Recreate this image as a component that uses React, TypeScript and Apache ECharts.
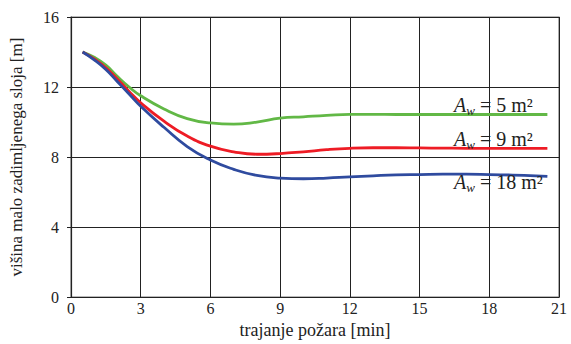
import React, { useEffect, useRef } from "react";
import * as echarts from "echarts";

const times = [0.5, 1, 1.5, 2, 2.5, 3, 4, 5, 6, 7, 8, 9, 10, 11, 12, 13, 14, 15, 16, 17, 18, 19, 20, 20.5];
const green5 = [14, 13.7, 13.25, 12.6, 12.0, 11.5, 10.75, 10.2, 9.95, 9.88, 10.0, 10.22, 10.3, 10.38, 10.44, 10.44, 10.43, 10.43, 10.43, 10.43, 10.43, 10.43, 10.43, 10.43];
const red9 = [14, 13.6, 13.1, 12.45, 11.75, 11.1, 10.05, 9.2, 8.62, 8.3, 8.16, 8.2, 8.3, 8.42, 8.5, 8.53, 8.53, 8.52, 8.51, 8.5, 8.5, 8.5, 8.5, 8.5];
const blue18 = [14, 13.55, 13.0, 12.3, 11.6, 10.9, 9.7, 8.6, 7.83, 7.3, 6.95, 6.8, 6.76, 6.8, 6.87, 6.93, 6.98, 7.0, 7.02, 7.02, 7.0, 6.97, 6.93, 6.9];
const seriesNames = ["5", "9", "18"];
const xTicks = { min: 0, max: 21, interval: 3 };
const yTicks = { min: 0, max: 16, interval: 4 };

const FONT = "Liberation Serif";

export default function App() {
  const ref = useRef<HTMLDivElement>(null);
  useEffect(() => {
    if (!ref.current) return;
    const chart = echarts.init(ref.current, null, { renderer: "svg" });
    const pair = (ys: number[]) => times.map((t, i) => [t, ys[i]]);
    const rich = {
      a: { fontFamily: FONT, fontSize: 20, fontStyle: "italic", fill: "#222", lineHeight: 24 },
      w: { fontFamily: FONT, fontSize: 13, fontStyle: "italic", fill: "#222", verticalAlign: "bottom", lineHeight: 24 },
      t: { fontFamily: FONT, fontSize: 20, fill: "#222", lineHeight: 24 },
    };
    const label = (n: string, y: number) => ({
      type: "text",
      left: 454,
      top: y - 11,
      z: 10,
      style: {
        text: `{a|A}{w|w}{t| = ${n} m²}`,
        rich,
        fontFamily: FONT,
        fontSize: 20,
      },
    });
    const axisText = (size: number) => ({ fontFamily: FONT, fontSize: size, color: "#222" });
    chart.setOption({
      animation: false,
      backgroundColor: "#fff",
      grid: { left: 69, right: 12, top: 17, bottom: 46, show: true, borderColor: "#777", borderWidth: 1.2 },
      xAxis: {
        type: "value",
        min: xTicks.min,
        max: xTicks.max,
        interval: xTicks.interval,
        name: "trajanje požara [min]",
        nameLocation: "middle",
        nameGap: 20,
        nameTextStyle: axisText(18),
        axisLine: { show: true, lineStyle: { color: "#222", width: 1.2 } },
        axisTick: { show: false },
        axisLabel: { ...axisText(16), margin: 3 },
        splitLine: { show: true, lineStyle: { color: "#222", width: 1 } },
      },
      yAxis: {
        type: "value",
        min: yTicks.min,
        max: yTicks.max,
        interval: yTicks.interval,
        name: "višina malo zadimljenega sloja [m]",
        nameLocation: "middle",
        nameGap: 46,
        nameTextStyle: axisText(17),
        axisLine: { show: true, lineStyle: { color: "#222", width: 1.2 } },
        axisTick: { show: true, length: 4, inside: false, lineStyle: { color: "#222" } },
        axisLabel: { ...axisText(16), margin: 12 },
        splitLine: { show: true, lineStyle: { color: "#222", width: 1 } },
      },
      series: [
        { name: seriesNames[0], type: "line", data: pair(green5), smooth: true, showSymbol: false, lineStyle: { color: "#62b846", width: 2.8 } },
        { name: seriesNames[1], type: "line", data: pair(red9), smooth: true, showSymbol: false, lineStyle: { color: "#ee1c25", width: 2.8 } },
        { name: seriesNames[2], type: "line", data: pair(blue18), smooth: true, showSymbol: false, lineStyle: { color: "#2f4b9f", width: 2.8 } },
      ],
      graphic: [label(seriesNames[0], 106), label(seriesNames[1], 140), label(seriesNames[2], 183)],
    });
    return () => chart.dispose();
  }, []);
  return <div ref={ref} style={{ width: 571, height: 344, position: "absolute", left: 0, top: 0 }} />;
}
